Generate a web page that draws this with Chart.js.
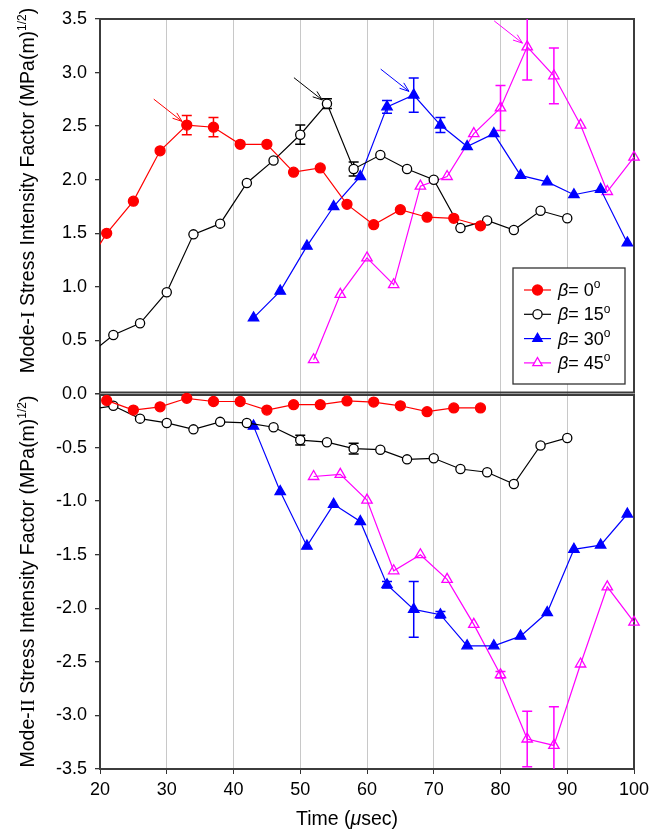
<!DOCTYPE html>
<html>
<head>
<meta charset="utf-8">
<script src="https://cdn.jsdelivr.net/npm/chart.js@4.4.0/dist/chart.umd.min.js"></script>
<style>
  html, body { margin: 0; padding: 0; background: #fff; }
  canvas { display: block; }
</style>
</head>
<body>
<canvas id="sif" width="664" height="834"></canvas>
<script>
const FONT = '"Liberation Sans", Arial, sans-serif';
const SERIF = '"Liberation Serif", "Times New Roman", serif';

// beta = 0 deg
const timeBeta0 = [17, 21, 25, 29, 33, 37, 41, 45, 49, 53, 57, 61, 65, 69, 73, 77];
const modeIBeta0 = [1.10, 1.50, 1.80, 2.27, 2.51, 2.49, 2.33, 2.33, 2.07, 2.11, 1.77, 1.58, 1.72, 1.65, 1.64, 1.57];
const modeIIBeta0 = [null, -0.06, -0.15, -0.12, -0.04, -0.07, -0.07, -0.15, -0.10, -0.10, -0.065, -0.075, -0.11, -0.165, -0.13, -0.13];
const errIBeta0 = [null, null, null, null, 0.09, 0.09, null, null, null, null, null, null, null, null, null, null];
const errIIBeta0 = [];

// beta = 15 deg
const timeBeta15 = [18, 22, 26, 30, 34, 38, 42, 46, 50, 54, 58, 62, 66, 70, 74, 78, 82, 86, 90];
const modeIBeta15 = [0.35, 0.55, 0.66, 0.95, 1.49, 1.59, 1.97, 2.18, 2.42, 2.71, 2.10, 2.23, 2.10, 2.00, 1.55, 1.62, 1.53, 1.71, 1.64];
const modeIIBeta15 = [-0.15, -0.11, -0.23, -0.27, -0.33, -0.26, -0.27, -0.31, -0.43, -0.45, -0.51, -0.52, -0.61, -0.60, -0.70, -0.73, -0.84, -0.48, -0.41];
const errIBeta15 = [null, null, null, null, null, null, null, null, 0.09, 0.045, 0.065];
const errIIBeta15 = [null, null, null, null, null, null, null, null, 0.045, null, 0.05];

// beta = 30 deg
const timeBeta30 = [43, 47, 51, 55, 59, 63, 67, 71, 75, 79, 83, 87, 91, 95, 99];
const modeIBeta30 = [0.71, 0.96, 1.38, 1.75, 2.03, 2.68, 2.79, 2.51, 2.31, 2.43, 2.04, 1.98, 1.86, 1.91, 1.41];
const modeIIBeta30 = [-0.30, -0.91, -1.42, -1.03, -1.19, -1.78, -2.01, -2.06, -2.35, -2.35, -2.26, -2.04, -1.45, -1.41, -1.12];
const errIBeta30 = [null, null, null, null, null, 0.06, 0.16, 0.07];
const errIIBeta30 = [null, null, null, null, null, 0.03, 0.26, 0.03];

// beta = 45 deg
const timeBeta45 = [52, 56, 60, 64, 68, 72, 76, 80, 84, 88, 92, 96, 100];
const modeIBeta45 = [0.32, 0.93, 1.27, 1.02, 1.94, 2.03, 2.43, 2.67, 3.24, 2.97, 2.51, 1.89, 2.21];
const modeIIBeta45 = [-0.77, -0.75, -0.99, -1.65, -1.50, -1.73, -2.15, -2.62, -3.22, -3.28, -2.52, -1.80, -2.13];
const errIBeta45 = [null, null, null, null, null, null, null, 0.21, 0.31, 0.26];
const errIIBeta45 = [null, null, null, null, null, null, null, 0.03, 0.26, 0.36];

// time of the Mode-I peak marked with an arrow, per group
const peakTimes = [33, 54, 67, 84];

const betaLabels = ['0', '15', '30', '45'];
const betaColors = ['#ff0000', '#000000', '#0000ff', '#ff00ff'];
const betaPointStyles = ['circle', 'circle', 'triangle', 'triangle'];
const betaPointFills = ['#ff0000', '#ffffff', '#0000ff', 'rgba(255,255,255,0)'];
const betaPointRadius = [5, 4.6, 6, 6];

const groups = [
  { time: timeBeta0, kI: modeIBeta0, kII: modeIIBeta0, eI: errIBeta0, eII: errIIBeta0 },
  { time: timeBeta15, kI: modeIBeta15, kII: modeIIBeta15, eI: errIBeta15, eII: errIIBeta15 },
  { time: timeBeta30, kI: modeIBeta30, kII: modeIIBeta30, eI: errIBeta30, eII: errIIBeta30 },
  { time: timeBeta45, kI: modeIBeta45, kII: modeIIBeta45, eI: errIBeta45, eII: errIIBeta45 }
];

const toPoints = (time, values) => time.map((t, i) => ({ x: t, y: values[i] }));

const makeDataset = (g, i, mode) => ({
  label: 'beta = ' + betaLabels[i] + (mode === 'yI' ? ' (I)' : ' (II)'),
  data: toPoints(g.time, mode === 'yI' ? g.kI : g.kII),
  errors: mode === 'yI' ? g.eI : g.eII,
  xAxisID: 'x',
  yAxisID: mode,
  borderColor: betaColors[i],
  borderWidth: 1.2,
  pointStyle: betaPointStyles[i],
  pointRadius: betaPointRadius[i],
  pointBackgroundColor: betaPointFills[i],
  pointBorderColor: betaColors[i],
  pointBorderWidth: 1.3,
  tension: 0,
  spanGaps: false,
  clip: { left: 0, right: 8, top: 8, bottom: 8 }
});

const datasets = [];
groups.forEach((g, i) => datasets.push(makeDataset(g, i, 'yI')));
groups.forEach((g, i) => datasets.push(makeDataset(g, i, 'yII')));

// draws a run of text pieces, each with its own font and raise
function drawRich(ctx, pieces, x, y) {
  let cx = x;
  pieces.forEach(p => {
    ctx.font = p.font;
    ctx.fillText(p.text, cx, y - (p.rise || 0));
    cx += ctx.measureText(p.text).width;
  });
  return cx - x;
}

function richWidth(ctx, pieces) {
  let w = 0;
  pieces.forEach(p => { ctx.font = p.font; w += ctx.measureText(p.text).width; });
  return w;
}

const titleFont = '19.5px ' + FONT;
const numeralFont = '19.5px ' + SERIF;
const supFont = '12px ' + FONT;

const panelDecor = {
  id: 'panelDecor',
  beforeDatasetsDraw(chart) {
    const { ctx, chartArea, scales } = chart;
    const left = chartArea.left, right = chartArea.right;

    // panel frames
    ctx.save();
    ctx.strokeStyle = '#3c3c3c';
    ctx.lineWidth = 2;
    const yI = scales.yI, yII = scales.yII;
    ctx.strokeRect(left, yI.top, right - left, yI.bottom - yI.top - 1.5);
    ctx.strokeRect(left, yII.top + 1, right - left, yII.bottom - yII.top - 1);
    ctx.restore();

    // error bars, kept under the markers
    chart.data.datasets.forEach(ds => {
      if (!ds.errors || !ds.errors.length) return;
      const ys = scales[ds.yAxisID];
      ctx.save();
      ctx.beginPath();
      ctx.rect(left, ys.top, right - left, ys.bottom - ys.top);
      ctx.clip();
      ctx.strokeStyle = ds.borderColor;
      ctx.lineWidth = 1.5;
      ds.data.forEach((pt, j) => {
        const e = ds.errors[j];
        if (e == null || pt.y == null) return;
        const x = scales.x.getPixelForValue(pt.x);
        const y0 = ys.getPixelForValue(pt.y - e);
        const y1 = ys.getPixelForValue(pt.y + e);
        ctx.beginPath();
        ctx.moveTo(x, y0); ctx.lineTo(x, y1);
        ctx.moveTo(x - 5, y0); ctx.lineTo(x + 5, y0);
        ctx.moveTo(x - 5, y1); ctx.lineTo(x + 5, y1);
        ctx.stroke();
      });
      ctx.restore();
    });
  },
  afterDatasetsDraw(chart) {
    const { ctx, chartArea, scales } = chart;

    // arrows pointing at the Mode-I peaks
    const ux = 0.786, uy = 0.618;
    peakTimes.forEach((t, i) => {
      const g = groups[i];
      const k = g.time.indexOf(t);
      const px = scales.x.getPixelForValue(t);
      const py = scales.yI.getPixelForValue(g.kI[k]);
      const tipX = px - ux * 6, tipY = py - uy * 6;
      const tailX = px - ux * 42, tailY = py - uy * 42;
      const ang = Math.atan2(tipY - tailY, tipX - tailX);
      ctx.save();
      ctx.strokeStyle = betaColors[i];
      ctx.lineWidth = 1;
      ctx.beginPath();
      ctx.moveTo(tailX, tailY);
      ctx.lineTo(tipX, tipY);
      ctx.moveTo(tipX - 10 * Math.cos(ang - 0.35), tipY - 10 * Math.sin(ang - 0.35));
      ctx.lineTo(tipX, tipY);
      ctx.lineTo(tipX - 10 * Math.cos(ang + 0.35), tipY - 10 * Math.sin(ang + 0.35));
      ctx.stroke();
      ctx.restore();
    });

    // legend inside the Mode-I panel
    const boxW = 112, boxH = 116;
    const bx = chartArea.right - 121;
    const by = scales.yI.bottom - 10 - boxH;
    ctx.save();
    ctx.fillStyle = '#fff';
    ctx.fillRect(bx, by, boxW, boxH);
    ctx.strokeStyle = '#333';
    ctx.lineWidth = 1.3;
    ctx.strokeRect(bx, by, boxW, boxH);
    betaLabels.forEach((b, i) => {
      const ry = by + 22 + i * 24.3;
      const mx = bx + 24.5;
      ctx.strokeStyle = betaColors[i];
      ctx.lineWidth = 1.2;
      ctx.beginPath();
      ctx.moveTo(bx + 11, ry);
      ctx.lineTo(bx + 38, ry);
      ctx.stroke();
      ctx.fillStyle = betaPointFills[i] === 'rgba(255,255,255,0)' ? '#fff' : betaPointFills[i];
      ctx.beginPath();
      if (betaPointStyles[i] === 'circle') {
        ctx.arc(mx, ry, betaPointRadius[i], 0, Math.PI * 2);
      } else {
        const r = betaPointRadius[i] * 0.9;
        ctx.moveTo(mx, ry - r);
        ctx.lineTo(mx + r * 0.866, ry + r * 0.5);
        ctx.lineTo(mx - r * 0.866, ry + r * 0.5);
        ctx.closePath();
      }
      ctx.fill();
      ctx.lineWidth = 1.3;
      ctx.stroke();
      ctx.fillStyle = '#000';
      ctx.textBaseline = 'middle';
      ctx.textAlign = 'left';
      drawRich(ctx, [
        { text: '\u03b2', font: 'italic 18px ' + FONT },
        { text: '= ' + b, font: '18px ' + FONT },
        { text: 'o', font: '12px ' + FONT, rise: 6 }
      ], bx + 45, ry + 1);
    });
    ctx.restore();
  },
  afterDraw(chart) {
    const { ctx, scales } = chart;
    ctx.save();
    ctx.fillStyle = '#000';
    ctx.textBaseline = 'alphabetic';
    ctx.textAlign = 'left';

    // y-axis titles, one per panel
    const yTitles = [
      { scale: scales.yI, numeral: 'I', shift: -16 },
      { scale: scales.yII, numeral: 'II', shift: 0 }
    ];
    yTitles.forEach(t => {
      const pieces = [
        { text: 'Mode-', font: titleFont },
        { text: t.numeral, font: numeralFont },
        { text: ' Stress Intensity Factor (MPa(m)', font: titleFont },
        { text: '1/2', font: supFont, rise: 8 },
        { text: ')', font: titleFont }
      ];
      const w = richWidth(ctx, pieces);
      const cy = (t.scale.top + t.scale.bottom) / 2 + t.shift;
      ctx.save();
      ctx.translate(34, cy);
      ctx.rotate(-Math.PI / 2);
      drawRich(ctx, pieces, -w / 2, 0);
      ctx.restore();
    });

    // x-axis title
    const xPieces = [
      { text: 'Time (', font: titleFont },
      { text: '\u03bc', font: 'italic 19.5px ' + FONT },
      { text: 'sec)', font: titleFont }
    ];
    const xw = richWidth(ctx, xPieces);
    drawRich(ctx, xPieces, 347 - xw / 2, 825);
    ctx.restore();
  }
};

const yAxisBase = {
  position: 'left',
  stack: 'sif',
  stackWeight: 1,
  border: { display: false },
  grid: { drawOnChartArea: false, tickLength: 5, tickColor: '#333', lineWidth: 1.3 },
  ticks: { stepSize: 0.5, padding: 8, color: '#000', font: { family: FONT, size: 18 } },
  afterFit: (scale) => { scale.width = 100; }
};

new Chart(document.getElementById('sif'), {
  type: 'line',
  data: { datasets },
  options: {
    responsive: false,
    devicePixelRatio: 1,
    animation: false,
    layout: { padding: { top: 19, right: 30, left: 0, bottom: 0 } },
    plugins: { legend: { display: false }, tooltip: { enabled: false } },
    scales: {
      x: {
        type: 'linear',
        position: 'bottom',
        min: 20,
        max: 100,
        border: { display: false },
        grid: { color: '#c8c8c8', lineWidth: 1, tickLength: 5, tickColor: '#333' },
        ticks: { stepSize: 10, padding: 5, color: '#000', maxRotation: 0, font: { family: FONT, size: 18 } },
        afterFit: (scale) => { scale.height = 65; }
      },
      yI: Object.assign({}, yAxisBase, {
        min: 0,
        max: 3.5,
        weight: 1,
        ticks: Object.assign({}, yAxisBase.ticks, { callback: (v) => v === 0 ? '' : v.toFixed(1) })
      }),
      yII: Object.assign({}, yAxisBase, {
        min: -3.5,
        max: 0,
        weight: 0,
        ticks: Object.assign({}, yAxisBase.ticks, { callback: (v) => v.toFixed(1) })
      })
    }
  },
  plugins: [panelDecor]
});
</script>
</body>
</html>
